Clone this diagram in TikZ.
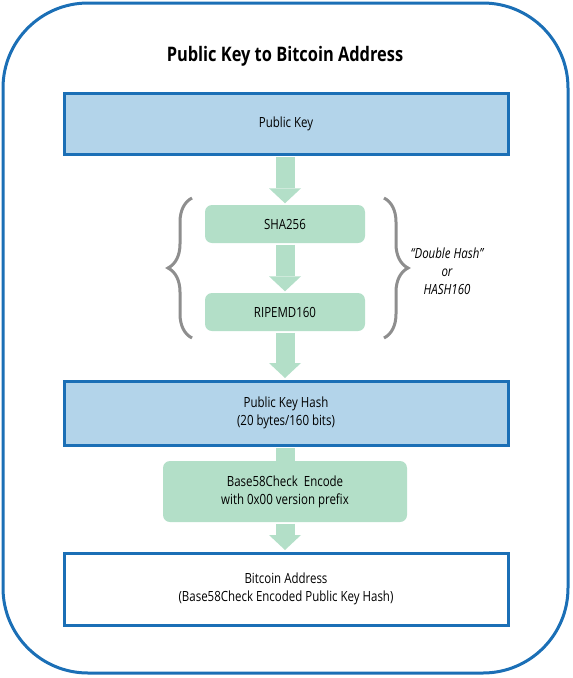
\documentclass[tikz,border=0pt]{standalone}
\usepackage{fontspec}
\setmainfont{Open Sans}[FakeStretch=0.82]
\usetikzlibrary{arrows.meta, decorations.pathreplacing, positioning}
\definecolor{frameblue}{HTML}{1B6FB6}
\definecolor{keyblue}{HTML}{B3D4EA}
\definecolor{hashgreen}{HTML}{B3DFC8}
\definecolor{bracegray}{HTML}{8E8E8E}
\tikzset{
    keybox/.style = {draw=frameblue, line width=3pt, fill=keyblue,
        minimum width=444pt, align=center, font=\bodyfont},
    addrbox/.style = {keybox, fill=white},
    hashbox/.style = {fill=hashgreen, rounded corners=7pt, align=center,
        font=\bodyfont},
    fatline/.style = {draw=hashgreen, line width=19pt, shorten <=1.5pt},
    fatarrow/.style = {fatline, shorten >=1.5pt,
        -{Triangle[length=15pt, width=32pt, line width=0pt]}},
    hashbrace/.style = {draw=bracegray, line width=3pt,
        decorate, decoration={brace, amplitude=24pt}},
}
\newcommand{\bodyfont}{\fontsize{14}{18}\selectfont}

\begin{document}
\begin{tikzpicture}[x=1pt, y=-1pt]
\useasboundingbox (0,0) rectangle (573,678);
\draw[frameblue, line width=3pt, rounded corners=85pt] (3,3) rectangle (568,673);

\node[font=\bfseries\fontsize{20}{24}\selectfont] (title) at (285,56) {Public Key to Bitcoin Address};

\node[keybox, minimum height=61pt] (pk) at (286,123.5) {Public Key};
\node[hashbox, minimum width=160pt, minimum height=38pt] (sha) at (285,224) {SHA256};
\node[hashbox, minimum width=160pt, minimum height=38pt] (ripe) at (285,312) {RIPEMD160};
\node[keybox, minimum height=64pt] (pkh) at (286,413) {Public Key Hash\\(20 bytes/160 bits)};
\node[hashbox, minimum width=244pt, minimum height=61pt] (b58) at (285,491.5) {Base58Check~~Encode\\with 0x00 version prefix};
\node[addrbox, minimum height=72pt] (addr) at (286,589) {Bitcoin Address\\(Base58Check Encoded Public Key Hash)};

\draw[fatarrow] (pk.south -| sha.north) -- (sha.north);
\draw[fatarrow] (sha.south) -- (ripe.north);
\draw[fatarrow] (ripe.south) -- (ripe.south |- pkh.north);
\draw[fatline] (pkh.south -| b58.north) -- (b58.north);
\draw[fatarrow] (b58.south) -- (b58.south |- addr.north);

\coordinate (lbtop) at (192,198);
\coordinate (lbbot) at (192,338);
\coordinate (rbtop) at (384,198);
\coordinate (rbbot) at (384,338);
\draw[hashbrace] (lbbot) -- (lbtop);
\draw[hashbrace] (rbtop) -- (rbbot);

\node[font=\itshape\bodyfont, align=center, inner sep=0pt] (dh) at (447,271) {“Double Hash”\\or\\HASH160};
\end{tikzpicture}
\end{document}
